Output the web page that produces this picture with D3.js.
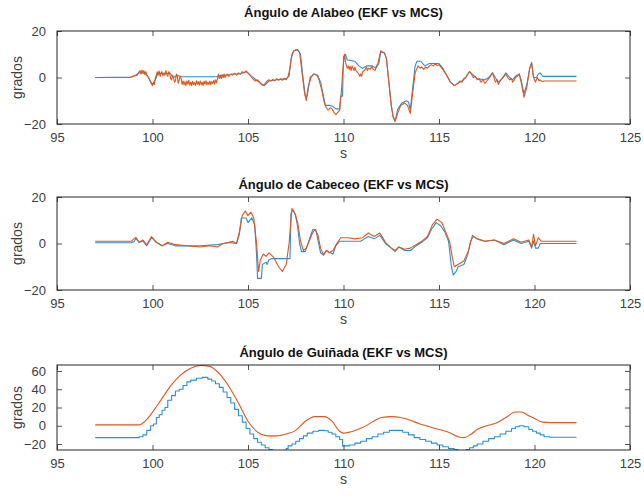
<!DOCTYPE html>
<html><head><meta charset="utf-8">
<script src="https://cdn.jsdelivr.net/npm/d3@7/dist/d3.min.js"></script>
<style>body{margin:0;background:#fff}svg{display:block}</style>
</head><body>
<script>
// ---------- DATA ----------
const titles = ["Ángulo de Alabeo (EKF vs MCS)", "Ángulo de Cabeceo (EKF vs MCS)", "Ángulo de Guiñada (EKF vs MCS)"];
const xTicks = [95, 100, 105, 110, 115, 120, 125];
const yTicksAlabeo = [-20, 0, 20];
const yTicksCabeceo = [-20, 0, 20];
const yTicksGuinada = [-20, 0, 20, 40, 60];
const xLabel = "s";
const yLabel = "grados";

// Alabeo (roll)  [time s, degrees]
const alabeoMCS = [[97,0],[98.9,0.2],[99.1,1],[99.3,2],[99.5,2],[99.7,1],[99.85,-1],[100.0,-3],[100.15,-1],[100.3,2],[100.6,1.5],[100.9,2],[101.1,0],[101.3,1],[101.5,0.3],[103.4,0.3],[103.6,1],[103.9,1],[104.2,1.5],[104.6,1.5],[104.9,2.5],[105.2,0.5],[105.5,-1.5],[105.85,-3.5],[106.1,-1.5],[106.5,-1],[107.0,-0.5],[107.15,0.5],[107.25,8],[107.4,11.5],[107.6,12],[107.75,10],[107.85,2],[108.0,-8],[108.1,-8],[108.25,0],[108.45,1.5],[108.65,1],[108.8,-2],[108.95,-8],[109.05,-12],[109.3,-12],[109.45,-12.5],[109.6,-13.5],[109.8,-13.5],[109.85,-8],[109.95,-8],[110.0,9],[110.1,10],[110.2,7.5],[110.6,7],[110.8,5],[111.0,4],[111.2,5],[111.5,5],[111.7,4],[111.85,6],[111.95,11],[112.15,10.5],[112.25,8],[112.35,0],[112.5,-12],[112.6,-17],[112.7,-18.5],[112.85,-13.5],[113.05,-11],[113.3,-10],[113.4,-10.5],[113.5,-14],[113.6,-6],[113.75,5],[113.85,7],[114.05,7],[114.25,5],[114.5,6],[115.0,6],[115.2,4],[115.4,1],[115.6,-2],[115.8,-3.5],[116.0,-2.5],[116.2,-1.5],[116.4,0],[116.6,2.5],[116.8,1],[117.0,-0.5],[117.4,-1],[117.6,0],[117.8,2],[117.95,0],[118.1,-2],[118.3,-0.5],[118.5,2],[118.7,0],[118.85,-1],[119.0,0.5],[119.2,1.5],[119.3,-1],[119.45,-7],[119.6,-3],[119.75,4],[119.85,6.5],[119.95,0],[120.1,0],[120.2,1.5],[120.3,2],[120.45,0.5],[122.2,0.5]];
const alabeoEKF = [[97,0],[98.8,0],[99.0,0.5],[99.2,1],[99.3,2.5],[99.35,3],[99.4,1.5],[99.45,3.2],[99.5,2],[99.55,3],[99.6,1.5],[99.65,2.5],[99.7,1],[99.8,0],[99.85,-1],[99.9,-2],[100.0,-3.5],[100.05,-2],[100.1,-3],[100.15,0],[100.2,1],[100.25,2.5],[100.3,1],[100.35,2.8],[100.4,0.5],[100.45,2],[100.5,2.5],[100.55,0.8],[100.6,2],[100.65,1],[100.7,3],[100.75,1.2],[100.8,0.5],[100.85,2.5],[100.9,1.5],[100.95,-0.5],[101.0,-1],[101.05,1],[101.1,0],[101.15,-2],[101.2,-1.5],[101.25,1.5],[101.3,0.5],[101.35,-2.5],[101.4,-1],[101.45,0.5],[101.5,-0.5],[101.55,-3],[101.6,-1.5],[101.65,-3.2],[101.7,-1.8],[101.75,-3.5],[101.8,-1.5],[101.85,-2.8],[101.9,-1.2],[101.95,-3.3],[102.0,-2],[102.05,-3.5],[102.1,-1.6],[102.15,-3],[102.2,-2.2],[102.25,-3.4],[102.3,-1.4],[102.35,-2.9],[102.4,-1.8],[102.45,-3.3],[102.5,-1.5],[102.55,-3.1],[102.6,-2],[102.65,-3.5],[102.7,-1.6],[102.75,-2.8],[102.8,-1.4],[102.85,-3.2],[102.9,-2],[102.95,-3],[103.0,-1.5],[103.05,-3.2],[103.1,-1.8],[103.15,-2.6],[103.2,-1.2],[103.25,-2.8],[103.3,-1],[103.35,-2.2],[103.4,-0.5],[103.45,1.5],[103.5,-0.5],[103.55,1],[103.6,-0.5],[103.65,1.2],[103.7,0],[103.75,1.5],[103.8,0],[103.9,1.5],[104.0,0.5],[104.1,1.5],[104.2,1],[104.3,1.8],[104.4,1],[104.5,2],[104.6,1.5],[104.7,2.5],[104.8,2],[104.9,2.8],[105.0,2],[105.1,1],[105.2,0],[105.3,-1],[105.4,-1.5],[105.5,-1],[105.6,-2],[105.7,-3],[105.8,-3.5],[105.9,-2.5],[106.0,-1.5],[106.1,-1],[106.2,-1.5],[106.3,-0.8],[106.4,-1.5],[106.5,-0.5],[106.6,-1.2],[106.7,-0.5],[106.8,-1.2],[106.9,-0.5],[107.0,-1],[107.1,0.5],[107.2,4],[107.3,10],[107.4,11.5],[107.55,12],[107.7,11],[107.8,4],[107.95,-6],[108.05,-10],[108.15,-4],[108.3,0],[108.45,1.5],[108.6,1],[108.7,-0.5],[108.85,-5],[109.0,-11],[109.1,-13],[109.2,-14],[109.3,-13],[109.4,-13.5],[109.5,-15],[109.6,-16],[109.7,-15],[109.8,-14],[109.9,-5],[109.95,2],[110.05,10],[110.12,6],[110.2,4],[110.25,5],[110.3,3.5],[110.35,4.8],[110.4,3],[110.45,5],[110.5,4],[110.55,3],[110.6,4.5],[110.65,3],[110.7,2.5],[110.8,1.5],[110.85,0.5],[110.9,1.5],[110.95,0.5],[111.0,2.5],[111.1,3],[111.2,4.5],[111.25,3],[111.3,4],[111.4,3.5],[111.5,5],[111.55,3.5],[111.65,3],[111.7,4.5],[111.8,6],[111.95,11.5],[112.05,11],[112.15,10.5],[112.25,8],[112.35,0],[112.5,-12],[112.6,-17],[112.7,-19],[112.85,-15],[113.0,-12],[113.1,-11.5],[113.2,-11],[113.35,-12],[113.5,-15.5],[113.6,-8],[113.75,2],[113.9,5],[114.0,4],[114.1,4.5],[114.2,3.5],[114.3,4.5],[114.4,4],[114.5,5],[114.6,5.5],[114.7,5],[114.8,5.8],[114.9,5.2],[115.0,5.5],[115.2,3.5],[115.4,1],[115.6,-2],[115.8,-3.5],[116.0,-2.5],[116.1,-1.5],[116.2,-2],[116.3,-0.5],[116.4,0],[116.5,1.5],[116.6,2.5],[116.7,1.5],[116.8,0],[116.9,0.5],[117.0,-1],[117.1,-0.5],[117.2,-2],[117.3,-1],[117.4,-2.5],[117.5,-1.5],[117.6,-0.5],[117.7,0.5],[117.8,2],[117.88,0],[117.95,-2],[118.05,-1],[118.1,-3],[118.2,-1.5],[118.3,-0.5],[118.4,0.5],[118.5,1.5],[118.6,0],[118.7,-1],[118.8,-0.5],[118.85,-2],[118.95,-1],[119.0,0],[119.1,0.5],[119.2,1.5],[119.3,-2],[119.45,-8.5],[119.6,-4],[119.75,4],[119.85,6],[119.95,0],[120.05,-2],[120.15,0],[120.25,-1.5],[120.3,-1],[120.4,-1.8],[120.5,-1.5],[122.2,-1.5]];

// Cabeceo (pitch)
const cabeceoMCS = [[97,0.3],[98.9,0.3],[99.05,1],[99.15,2.5],[99.3,0.5],[99.5,1],[99.7,-1],[99.95,2.5],[100.2,0.5],[100.5,-1],[100.8,0],[101.2,-1],[102.5,-1],[103.4,-0.5],[103.7,0],[104.0,0.5],[104.2,1],[104.4,0],[104.55,4],[104.65,11],[104.9,11],[105.0,9],[105.2,11],[105.35,8],[105.45,-5],[105.5,-15],[105.7,-15],[105.75,-9],[105.95,-8],[106.0,-9],[106.1,-7],[106.25,-6.5],[107.2,-6.5],[107.25,13],[107.35,14.5],[107.5,12],[107.6,7],[107.7,0],[107.8,-3.5],[108.0,-3.5],[108.1,-1],[108.3,4],[108.4,6],[108.55,6],[108.65,2],[108.8,-4],[108.95,-5],[109.1,-3],[109.3,-4],[109.45,-4.5],[109.6,-1],[109.8,1],[110.0,1],[110.4,1],[110.9,1],[111.1,2],[111.3,3],[111.6,2],[111.9,3.5],[112.2,0],[112.5,-2],[112.7,-3.5],[112.9,-1.5],[113.2,-3],[113.5,-3],[113.8,-1],[114.1,0.5],[114.4,2.5],[114.6,6],[114.85,9],[115.1,7.5],[115.3,5],[115.5,1],[115.65,-10],[115.75,-13.5],[115.9,-12],[116.0,-10],[116.3,-9],[116.5,-5],[116.65,1],[116.8,3],[117.0,2],[117.4,1],[117.9,1.5],[118.4,-0.5],[118.9,1.5],[119.3,0],[119.7,1],[119.85,-2],[119.95,1],[120.05,-2],[120.2,-2],[120.3,0],[122.2,0]];
const cabeceoEKF = [[97,1],[98.9,1],[99.1,2.5],[99.3,0.5],[99.5,1.5],[99.7,-0.5],[99.95,3],[100.2,0.5],[100.5,-1],[100.8,0.5],[101.2,-0.5],[101.8,-1],[102.5,-1.5],[103.0,-1],[103.4,-1.5],[103.7,0],[104.0,0.5],[104.4,0],[104.55,5],[104.7,12],[104.85,14],[105.0,12],[105.15,13.5],[105.3,11],[105.45,0],[105.55,-12],[105.65,-7],[105.8,-4.5],[105.95,-5.5],[106.1,-4],[106.35,-6],[106.6,-10],[106.8,-12],[107.0,-9],[107.15,0],[107.3,15],[107.45,13],[107.6,9],[107.75,1],[107.9,-3],[108.05,-2],[108.2,1],[108.35,4],[108.5,6],[108.65,4],[108.8,-2],[108.95,-5],[109.1,-3],[109.25,-4],[109.45,-3],[109.65,0],[109.85,2.5],[110.2,2.5],[110.6,2],[111.0,2.5],[111.3,4.5],[111.6,3],[111.9,4.5],[112.2,0.5],[112.5,-2],[112.7,-3],[112.9,-1.5],[113.2,-2.5],[113.5,-2],[113.8,-0.5],[114.1,1],[114.4,3],[114.65,8],[114.9,10.5],[115.15,9],[115.35,5],[115.55,1],[115.7,-6],[115.8,-10],[116.0,-9],[116.3,-7.5],[116.55,-3],[116.75,3.5],[117.0,2],[117.4,1],[117.9,1.5],[118.4,0],[118.9,2],[119.3,0.5],[119.7,1.5],[119.85,-1.5],[119.95,4],[120.05,-1],[120.2,2.5],[120.35,1],[122.2,1]];

// Guiñada (yaw)
const guinadaMCS = [[97,-13],[99.3,-12],[99.5,-10],[99.7,-5],[99.9,0],[100.05,2],[100.2,9],[100.35,12],[100.5,17],[100.65,20],[100.8,28],[101.0,33],[101.2,38],[101.4,40],[101.6,44],[101.8,48],[102.0,50],[102.3,52],[102.6,53],[102.9,51],[103.1,49],[103.3,46],[103.5,42],[103.7,37],[103.9,31],[104.1,25],[104.3,18],[104.5,11],[104.7,4],[104.9,-3],[105.1,-9],[105.3,-14],[105.5,-18],[105.7,-21],[105.9,-24],[106.1,-26],[106.3,-27],[107.0,-25],[107.1,-22],[107.3,-20],[107.5,-17],[107.7,-14],[107.9,-11],[108.1,-8],[108.4,-6],[108.7,-5],[109.0,-5.5],[109.2,-7],[109.4,-9],[109.6,-12],[109.8,-15],[109.95,-22],[110.3,-21],[110.6,-19],[110.9,-17],[111.2,-14],[111.5,-12],[111.8,-9],[112.1,-7],[112.4,-5],[112.8,-5],[113.1,-7],[113.4,-10],[113.7,-13],[114.0,-15],[114.3,-17],[114.6,-19],[114.9,-21],[115.2,-23],[115.5,-25],[115.8,-26],[116.0,-27],[116.4,-26],[116.6,-24],[116.8,-22],[117.0,-20],[117.3,-17],[117.6,-14],[117.9,-12],[118.2,-9],[118.5,-6],[118.8,-3],[119.0,-1],[119.2,0],[119.45,-1],[119.7,-4],[119.9,-6],[120.1,-8],[120.3,-10],[120.5,-12],[120.8,-12.5],[122.2,-12.5]];
const guinadaEKF = [[97,1],[99.3,1],[99.5,3],[99.75,8],[100,15],[100.5,30],[101,45],[101.5,56],[102,63],[102.5,66],[103,65],[103.5,57],[104,43],[104.5,25],[105,5],[105.5,-7],[106,-11],[106.5,-11],[107,-9],[107.5,-5],[108,5],[108.5,10],[109,10],[109.4,5],[109.8,-6],[110,-8],[110.5,-6],[111,-2],[111.5,4],[112,9],[112.5,10],[113,9],[113.5,6],[114,2],[114.5,-1],[115,-4],[115.5,-7],[116,-12],[116.3,-13],[116.7,-9],[117,-4],[117.5,0],[118,3],[118.5,9],[119,15],[119.3,15],[119.7,11],[120,8],[120.4,4],[120.8,3.5],[122.2,3.5]];

// ---------- LAYOUT ----------
const W = 644, H = 502;
const left = 57, right = 630;
const panels = [
  {title: titles[0], titleGap: 14, top: 31, bottom: 124, yDomain: [-20, 20], yTicks: yTicksAlabeo, mcs: alabeoMCS, ekf: alabeoEKF, mcsCurve: d3.curveLinear, ekfCurve: d3.curveLinear},
  {title: titles[1], titleGap: 8, top: 197, bottom: 290, yDomain: [-20, 20], yTicks: yTicksCabeceo, mcs: cabeceoMCS, ekf: cabeceoEKF, mcsCurve: d3.curveLinear, ekfCurve: d3.curveLinear},
  {title: titles[2], titleGap: 8, top: 365, bottom: 450, yDomain: [-26.5, 66.5], yTicks: yTicksGuinada, mcs: guinadaMCS, ekf: guinadaEKF, mcsCurve: d3.curveStepAfter, ekfCurve: d3.curveMonotoneX}
];
const blue = "#2a8fd4", orange = "#e0561c", axisCol = "#262626";
const font = "'Liberation Sans', Arial, Helvetica, sans-serif";

const svg = d3.select("body").append("svg").attr("width", W).attr("height", H);
const x = d3.scaleLinear().domain([95, 125]).range([left, right]);

panels.forEach((p, i) => {
  const y = d3.scaleLinear().domain(p.yDomain).range([p.bottom, p.top]);
  const g = svg.append("g");
  const clipId = "clip" + i;
  svg.append("clipPath").attr("id", clipId).append("rect")
    .attr("x", left).attr("y", p.top).attr("width", right - left).attr("height", p.bottom - p.top);

  const tl = 5;
  const axB = d3.axisBottom(x).tickValues(xTicks).tickSizeInner(-tl).tickSizeOuter(0).tickPadding(9).tickFormat(d3.format("d"));
  const axT = d3.axisTop(x).tickValues(xTicks).tickSizeInner(-tl).tickSizeOuter(0).tickFormat("");
  const axL = d3.axisLeft(y).tickValues(p.yTicks).tickSizeInner(-tl).tickSizeOuter(0).tickPadding(11).tickFormat(d3.format("d"));
  const axR = d3.axisRight(y).tickValues(p.yTicks).tickSizeInner(-tl).tickSizeOuter(0).tickFormat("");

  const lineMCS = d3.line().x(d => x(d[0])).y(d => y(d[1])).curve(p.mcsCurve);
  const lineEKF = d3.line().x(d => x(d[0])).y(d => y(d[1])).curve(p.ekfCurve);
  const lg = g.append("g").attr("clip-path", `url(#${clipId})`);
  lg.append("path").datum(p.mcs).attr("d", lineMCS).attr("fill", "none").attr("stroke", blue).attr("stroke-width", 1.1).attr("stroke-linejoin", "round");
  lg.append("path").datum(p.ekf).attr("d", lineEKF).attr("fill", "none").attr("stroke", orange).attr("stroke-width", 1.1).attr("stroke-linejoin", "round");

  [[axB, `translate(0,${p.bottom})`], [axT, `translate(0,${p.top})`], [axL, `translate(${left},0)`], [axR, `translate(${right},0)`]]
    .forEach(([ax, tr]) => {
      const a = g.append("g").attr("transform", tr).call(ax);
      a.select(".domain").remove();
      a.selectAll(".tick line").attr("stroke", axisCol).attr("stroke-width", 0.8);
      a.selectAll(".tick text").attr("fill", "#404040").style("font-family", font).style("font-size", "13px");
    });
  g.append("rect").attr("x", left).attr("y", p.top).attr("width", right - left).attr("height", p.bottom - p.top)
    .attr("fill", "none").attr("stroke", axisCol).attr("stroke-width", 1);

  g.append("text").attr("x", (left + right) / 2).attr("y", p.top - p.titleGap).attr("text-anchor", "middle")
    .style("font-family", font).style("font-size", "13px").style("font-weight", "bold").attr("fill", "#111")
    .text(p.title);
  g.append("text").attr("x", (left + right) / 2).attr("y", p.bottom + 34).attr("text-anchor", "middle")
    .style("font-family", font).style("font-size", "14px").attr("fill", "#404040").text(xLabel);
  g.append("text").attr("transform", `translate(22,${(p.top + p.bottom) / 2}) rotate(-90)`).attr("text-anchor", "middle")
    .style("font-family", font).style("font-size", "14px").attr("fill", "#404040").text(yLabel);
});
</script>
</body></html>
